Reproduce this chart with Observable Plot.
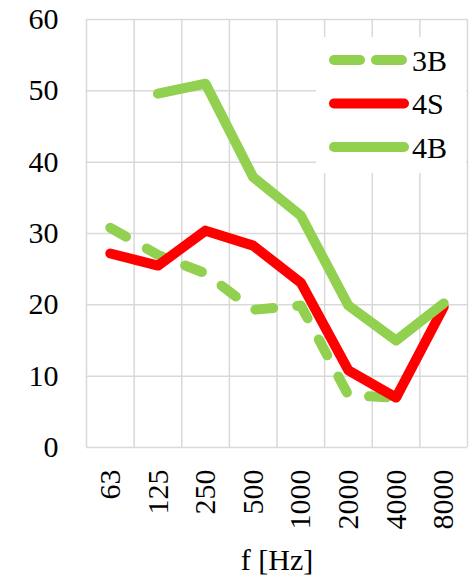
<!DOCTYPE html>
<html>
<head>
<meta charset="utf-8">
<script src="https://cdn.jsdelivr.net/npm/d3@7"></script>
<script src="https://cdn.jsdelivr.net/npm/@observablehq/plot@0.6"></script>
<style>
  html, body { margin: 0; padding: 0; background: #fff; }
  #wrap { position: relative; width: 471px; height: 577px; font-family: "Liberation Serif", "Times New Roman", Times, serif; }
  #wrap svg text { font-family: "Liberation Serif", "Times New Roman", Times, serif; }
  #legend { position: absolute; left: 316px; top: 37px; width: 150px; height: 136px; background: #fff; }
</style>
</head>
<body>
<div id="wrap"><div id="legend"></div></div>
<script>
const freqs = ["63", "125", "250", "500", "1000", "2000", "4000", "8000"];
const s3B = [30.8, 27.0, 24.4, 19.3, 19.9, 7.3, 7.0, null];
const s4S = [27.2, 25.5, 30.4, 28.3, 23.1, 10.8, 7.0, 19.7];
const s4B = [null, 49.6, 51.0, 37.9, 32.5, 19.9, 15.0, 20.2];
const yTicks = [0, 10, 20, 30, 40, 50, 60];
const seriesNames = ["3B", "4S", "4B"];
const seriesColors = ["#92D050", "#FF0000", "#92D050"];
const seriesDash = ["18,24", null, null];
const xTitle = "f [Hz]";

const seriesVals = [s3B, s4S, s4B];
const rows = [];
seriesVals.forEach((vals, k) => vals.forEach((v, i) => {
  if (v != null) rows.push({series: seriesNames[k], i, v});
}));
const idx = freqs.map((f, i) => i);
const bounds = d3.range(freqs.length + 1).map(i => i - 0.5);
const FONT = '"Liberation Serif", "Times New Roman", Times, serif';

const chart = Plot.plot({
  width: 471,
  height: 577,
  marginTop: 19,
  marginBottom: 130,
  marginLeft: 86,
  marginRight: 4,
  style: {fontFamily: FONT, fontSize: "30px", color: "#000", background: "#fff"},
  x: {type: "linear", domain: [-0.5, freqs.length - 0.5], label: null},
  y: {domain: [0, 60], label: null},
  marks: [
    Plot.ruleY(yTicks, {stroke: "#D9D9D9", strokeWidth: 1.5, strokeOpacity: 1}),
    Plot.ruleX(bounds, {stroke: "#D9D9D9", strokeWidth: 1.5, strokeOpacity: 1}),
    Plot.axisY({ticks: yTicks, tickSize: 0, tickPadding: 28, label: null, fontSize: 30, fontFamily: FONT}),
    Plot.axisX({ticks: idx, tickFormat: i => freqs[i], tickSize: 0, tickPadding: 22, tickRotate: -90,
      label: null, fontSize: 30, fontFamily: FONT}),
    Plot.text([xTitle], {text: d => d, frameAnchor: "bottom", dy: 113, lineAnchor: "middle",
      fontSize: 30, fontFamily: FONT, fill: "#000"}),
    ...seriesNames.map((name, k) => Plot.line(rows.filter(d => d.series === name), {
      x: "i", y: "v", stroke: seriesColors[k], strokeWidth: 10, strokeLinecap: "round", strokeLinejoin: "round",
      strokeDasharray: seriesDash[k] || undefined
    }))
  ]
});
document.getElementById("wrap").prepend(chart);
chart.style.position = "absolute"; chart.style.left = "0"; chart.style.top = "0";

// legend
const lg = d3.select("#legend").append("svg").attr("width", 150).attr("height", 136);
seriesNames.forEach((name, k) => {
  const y = 23 + k * 43.5;
  lg.append("line").attr("x1", 18).attr("x2", 88).attr("y1", y).attr("y2", y)
    .attr("stroke", seriesColors[k]).attr("stroke-width", 10).attr("stroke-linecap", "round")
    .attr("stroke-dasharray", seriesDash[k] ? "26,16" : null);
  lg.append("text").attr("x", 96).attr("y", y).attr("dy", "0.35em")
    .attr("font-family", FONT).attr("font-size", 30).text(name);
});
</script>
</body>
</html>
